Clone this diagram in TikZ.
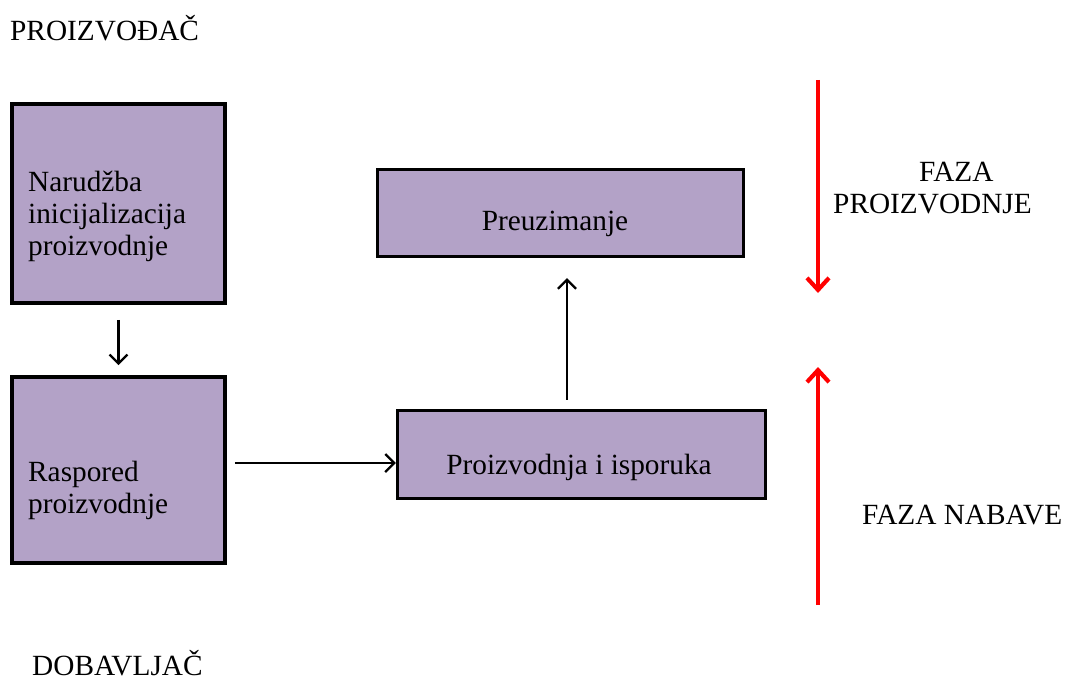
\documentclass[tikz,border=0pt]{standalone}
\usepackage{fontspec}
\setmainfont{Liberation Serif}
\usetikzlibrary{arrows.meta}
\definecolor{boxfill}{HTML}{B3A2C7}
\definecolor{phasered}{HTML}{FF0000}
\begin{document}
\begin{tikzpicture}[x=1pt,y=-1pt,
  font=\fontsize{29.3}{32}\selectfont,
  box/.style={draw=black, fill=boxfill, line width=3.8pt, inner sep=0pt},
  lbl/.style={inner sep=0pt, align=left, anchor=west},
  ctr/.style={inner sep=0pt, align=center},
  arr/.style={line width=2.2pt, -{Straight Barb[length=9pt,width=18pt,line width=2.2pt]}},
  redarr/.style={draw=phasered, line width=4.2pt, -{Straight Barb[length=12pt,width=22pt,line width=4.2pt]}}]
\useasboundingbox (0,0) rectangle (1071,682);

% boxes
\node[box, minimum width=213pt, minimum height=199pt] (b1) at (118.5,203.5) {};
\node[box, minimum width=213pt, minimum height=186pt] (b2) at (118.5,470) {};
\node[box, line width=3.4pt, minimum width=366pt, minimum height=87pt] (b3) at (560.5,213) {};
\node[box, line width=3.4pt, minimum width=368pt, minimum height=88pt] (b4) at (581.5,454.5) {};

% box texts
\node[lbl] (t1) at (28,216) {Narudžba\\inicijalizacija\\proizvodnje};
\node[lbl] (t2) at (28,490) {Raspored\\proizvodnje};
\node[ctr] (t3) at (555,224) {Preuzimanje};
\node[ctr] (t4) at (579,467) {Proizvodnja i isporuka};

% free labels
\node[lbl] (prod) at (10,28) {PROIZVOĐAČ};
\node[lbl] (dob) at (32,663) {DOBAVLJAČ};
\node[lbl] (fp) at (833,188) {\hspace*{86pt}FAZA\\PROIZVODNJE};
\node[lbl] (fn) at (862,515) {FAZA NABAVE};

% black connectors
\draw[arr, shorten <=15pt, shorten >=10pt] (b1.south) -- (b2.north);
\coordinate (a2s) at ([xshift=8pt,yshift=7pt]b2.east);
\draw[arr] (a2s) -- (a2s -| b4.west);
\coordinate (a3s) at ([xshift=-14.5pt,yshift=9pt]b4.north);
\draw[arr, shorten >=20pt] (a3s) -- (a3s |- b3.south);

% red phase arrows
\coordinate (r1s) at (818,80);
\coordinate (r1e) at (818,293);
\coordinate (r2s) at (818,605);
\coordinate (r2e) at (818,367);
\draw[redarr] (r1s) -- (r1e);
\draw[redarr] (r2s) -- (r2e);
\end{tikzpicture}
\end{document}
